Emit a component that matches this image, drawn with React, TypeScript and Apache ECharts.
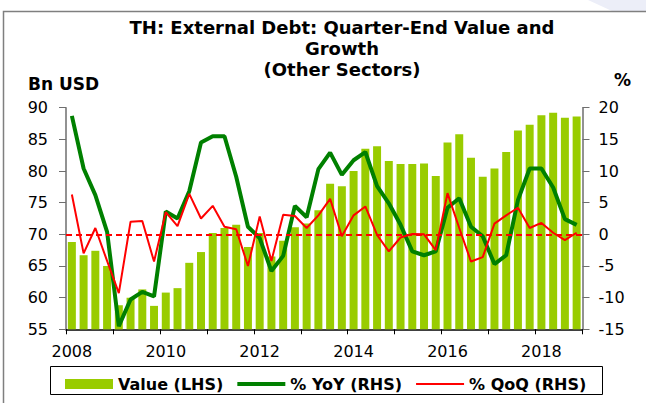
import React, { useEffect, useRef } from "react";
import * as echarts from "echarts";

const categories = [
  "2008Q1", "2008Q2", "2008Q3", "2008Q4", "2009Q1", "2009Q2", "2009Q3", "2009Q4",
  "2010Q1", "2010Q2", "2010Q3", "2010Q4", "2011Q1", "2011Q2", "2011Q3", "2011Q4",
  "2012Q1", "2012Q2", "2012Q3", "2012Q4", "2013Q1", "2013Q2", "2013Q3", "2013Q4",
  "2014Q1", "2014Q2", "2014Q3", "2014Q4", "2015Q1", "2015Q2", "2015Q3", "2015Q4",
  "2016Q1", "2016Q2", "2016Q3", "2016Q4", "2017Q1", "2017Q2", "2017Q3", "2017Q4",
  "2018Q1", "2018Q2", "2018Q3", "2018Q4",
];

const valueLHS = [
  68.8, 66.7, 67.4, 65.0, 58.8, 60.0, 61.3, 58.7,
  60.8, 61.5, 65.5, 67.2, 70.2, 71.0, 71.5, 68.0,
  70.2, 66.5, 69.0, 71.1, 71.7, 73.8, 78.0, 77.6,
  80.0, 83.5, 83.9, 81.6, 81.1, 81.1, 81.2, 79.2,
  84.5, 85.8, 82.1, 79.1, 80.4, 83.0, 86.4, 87.3,
  88.8, 89.2, 88.4, 88.6,
];

const yoyRHS = [
  18.7, 10.4, 6.2, 0.4, -14.5, -10.3, -9.1, -9.8,
  3.6, 2.5, 6.8, 14.5, 15.5, 15.5, 9.1, 1.2,
  -0.6, -5.8, -3.4, 4.5, 2.7, 10.3, 12.9, 9.4,
  11.7, 13.0, 7.6, 4.9, 1.5, -2.7, -3.3, -2.7,
  4.2, 5.7, 1.2, -0.3, -4.7, -3.3, 5.4, 10.4,
  10.4, 7.4, 2.4, 1.5,
];

const qoqRHS = [
  6.3, -3.0, 1.0, -4.2, -9.3, 2.0, 2.1, -4.3,
  3.5, 1.3, 6.4, 2.5, 4.5, 1.2, 0.8, -5.0,
  2.8, -4.2, 3.1, 2.9, 1.0, 3.0, 5.6, -0.3,
  3.0, 4.4, -0.1, -2.7, -0.5, 0.05, 0.0, -2.5,
  6.5, 1.0, -4.3, -3.6, 1.7, 3.0, 4.2, 1.0,
  1.8, 0.25, -0.9, 0.25,
];

const seriesNames = ["Value (LHS)", "% YoY (RHS)", "% QoQ (RHS)"];
const titleText = "TH: External Debt: Quarter-End Value and\nGrowth\n(Other Sectors)";
const leftAxisName = "Bn USD";
const rightAxisName = "%";

const FONT = "'DejaVu Sans', 'Liberation Sans', Arial, sans-serif";

export default function App() {
  const ref = useRef<HTMLDivElement>(null);

  useEffect(() => {
    if (!ref.current) return;
    const chart = echarts.init(ref.current, null, { renderer: "svg" });
    chart.setOption({
      animation: false,
      backgroundColor: "#ffffff",
      textStyle: { fontFamily: FONT },
      grid: {
        left: 66,
        right: 63.5,
        top: 107.7,
        bottom: 73.7,
        containLabel: false,
        outerBoundsMode: "none",
      },
      legend: {
        data: [
          { name: seriesNames[0], icon: "rect" },
          { name: seriesNames[1], icon: "path://M0,0H48V4H0Z" },
          { name: seriesNames[2], icon: "path://M0,0H48V2H0Z" },
        ],
        left: 65,
        top: 376,
        padding: 0,
        itemWidth: 48,
        itemHeight: 10,
        itemGap: 14,
        symbolKeepAspect: true,
        textStyle: { fontFamily: FONT, fontSize: 16, fontWeight: "bold", color: "#000" },
      },
      graphic: [
        {
          type: "polygon",
          shape: { points: [[588, 0], [646, 0], [646, 11], [612, 11]] },
          style: { fill: "#eceef8" },
          silent: true,
        },
        {
          type: "rect",
          shape: { x: 3.5, y: 11.5, width: 700, height: 500 },
          style: { fill: "none", stroke: "#7f7f7f", lineWidth: 1.5 },
          silent: true,
        },
        {
          type: "rect",
          shape: { x: 50.5, y: 366.5, width: 552, height: 28 },
          style: { fill: "none", stroke: "#000", lineWidth: 1 },
          silent: true,
        },
        {
          type: "text",
          x: 342,
          y: 17,
          style: {
            text: titleText,
            textAlign: "center",
            textVerticalAlign: "top",
            font: `bold 18px ${FONT}`,
            lineHeight: 21,
            fill: "#000",
          },
          silent: true,
        },
        {
          type: "text",
          x: 28,
          y: 83.5,
          style: {
            text: leftAxisName,
            textAlign: "left",
            textVerticalAlign: "middle",
            font: `bold 17px ${FONT}`,
            fill: "#000",
          },
          silent: true,
        },
        {
          type: "text",
          x: 614,
          y: 80,
          style: {
            text: rightAxisName,
            textAlign: "left",
            textVerticalAlign: "middle",
            font: `bold 17px ${FONT}`,
            fill: "#000",
          },
          silent: true,
        },
      ],
      xAxis: {
        type: "category",
        data: categories,
        boundaryGap: true,
        axisLine: { onZero: false, lineStyle: { color: "#000", width: 1.5 } },
        axisTick: { show: true, interval: 3, alignWithLabel: false, length: 5, lineStyle: { color: "#000" } },
        axisLabel: {
          interval: 7,
          margin: 14,
          fontSize: 16,
          color: "#000",
          fontFamily: FONT,
          formatter: (v: string) => v.slice(0, 4),
        },
        splitLine: { show: false },
      },
      yAxis: [
        {
          type: "value",
          min: 55,
          max: 90,
          interval: 5,
          position: "left",
          axisLine: { show: true, lineStyle: { color: "#6e6e6e", width: 1.5 } },
          axisTick: { show: true, length: 7, lineStyle: { color: "#6e6e6e" } },
          axisLabel: { margin: 18, fontSize: 16, color: "#000", fontFamily: FONT },
          splitLine: { show: false },
        },
        {
          type: "value",
          min: -15,
          max: 20,
          interval: 5,
          position: "right",
          axisLine: { show: true, lineStyle: { color: "#6e6e6e", width: 1.5 } },
          axisTick: { show: true, length: 7, lineStyle: { color: "#6e6e6e" } },
          axisLabel: { margin: 16, fontSize: 16, color: "#000", fontFamily: FONT },
          splitLine: { show: false },
        },
      ],
      series: [
        {
          name: seriesNames[0],
          type: "bar",
          yAxisIndex: 0,
          data: valueLHS,
          barCategoryGap: "32%",
          itemStyle: { color: "#99cc00" },
        },
        {
          name: seriesNames[1],
          type: "line",
          yAxisIndex: 1,
          data: yoyRHS,
          symbol: "none",
          showSymbol: false,
          lineStyle: { color: "#008000", width: 4 },
          itemStyle: { color: "#008000" },
        },
        {
          name: seriesNames[2],
          type: "line",
          yAxisIndex: 1,
          data: qoqRHS,
          symbol: "none",
          showSymbol: false,
          lineStyle: { color: "#ff0000", width: 2 },
          itemStyle: { color: "#ff0000" },
          markLine: {
            silent: true,
            symbol: ["none", "none"],
            label: { show: false },
            lineStyle: { color: "#ff0000", width: 2, type: [6, 4], opacity: 1 },
            data: [{ yAxis: 0 }],
          },
        },
      ],
    });
    return () => chart.dispose();
  }, []);

  return (
    <div
      ref={ref}
      style={{ position: "absolute", left: 0, top: 0, width: 646, height: 403, background: "#fff" }}
    />
  );
}
